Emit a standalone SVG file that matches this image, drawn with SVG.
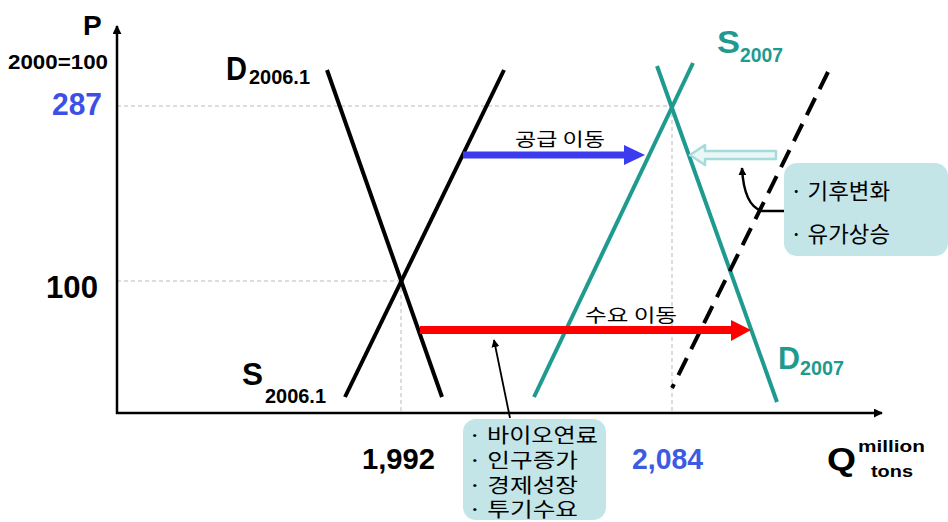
<svg xmlns="http://www.w3.org/2000/svg" width="948" height="522" viewBox="0 0 948 522">
<defs>
<marker id="ah" viewBox="0 0 10 10" refX="9" refY="5" markerWidth="9" markerHeight="9" markerUnits="userSpaceOnUse" orient="auto"><path d="M0,0 L10,5 L0,10 z" fill="#000"/></marker>
<marker id="ahs" viewBox="0 0 10 10" refX="9" refY="5" markerWidth="8" markerHeight="8" markerUnits="userSpaceOnUse" orient="auto"><path d="M0,0 L10,5 L0,10 z" fill="#000"/></marker>
</defs>
<style>
.lbl{font-family:"Liberation Sans",Arial,sans-serif;font-weight:bold}
.kr{font-family:"Noto Sans CJK KR","Noto Sans",sans-serif}
.guide{stroke:#bbbbbb;stroke-width:1;stroke-dasharray:4 3;fill:none}
.blk{stroke:#000;stroke-width:4;fill:none;stroke-linecap:butt}
.teal{stroke:#1f9a8f;stroke-width:4;fill:none}
.box{fill:#c3e5e8}
</style>
<rect width="948" height="522" fill="#fff"/>

<g id="guides">
<line class="guide" x1="117" y1="106" x2="672" y2="106"/>
<line class="guide" x1="117" y1="281" x2="401" y2="281"/>
<line class="guide" x1="401" y1="281" x2="401" y2="413"/>
<line class="guide" x1="672" y1="106" x2="672" y2="413"/>
</g>

<g id="axes">
<line x1="117" y1="414" x2="117" y2="26" stroke="#000" stroke-width="2.5" marker-end="url(#ah)"/>
<line x1="116" y1="413" x2="882" y2="413" stroke="#000" stroke-width="2.5" marker-end="url(#ah)"/>
<text class="lbl" x="83" y="35" font-size="28">P</text>
<text class="lbl" x="8" y="69" font-size="20" textLength="100" lengthAdjust="spacingAndGlyphs">2000=100</text>
<text class="lbl" x="52" y="115" font-size="31" fill="#3d4fe6" textLength="50" lengthAdjust="spacingAndGlyphs">287</text>
<text class="lbl" x="46" y="298" font-size="31" textLength="52" lengthAdjust="spacingAndGlyphs">100</text>
<text class="lbl" x="362" y="469" font-size="29" textLength="73" lengthAdjust="spacingAndGlyphs">1,992</text>
<text class="lbl" x="632" y="469" font-size="29" fill="#3d5ae3" textLength="71" lengthAdjust="spacingAndGlyphs">2,084</text>
<text class="lbl" x="827" y="470" font-size="32" textLength="29" lengthAdjust="spacingAndGlyphs">Q</text>
<text class="lbl" x="858" y="452" font-size="17" textLength="67" lengthAdjust="spacingAndGlyphs">million</text>
<text class="lbl" x="871" y="477" font-size="17" textLength="42" lengthAdjust="spacingAndGlyphs">tons</text>
</g>

<g id="D2006">
<line class="blk" x1="327" y1="70" x2="442" y2="397"/>
<text class="lbl" x="226" y="80" font-size="34" textLength="21" lengthAdjust="spacingAndGlyphs">D</text>
<text class="lbl" x="249" y="84" font-size="20" textLength="61" lengthAdjust="spacingAndGlyphs">2006.1</text>
</g>

<g id="S2006">
<line class="blk" x1="345" y1="397" x2="504" y2="70"/>
<text class="lbl" x="242" y="385" font-size="32" textLength="21" lengthAdjust="spacingAndGlyphs">S</text>
<text class="lbl" x="265" y="403" font-size="21" textLength="61" lengthAdjust="spacingAndGlyphs">2006.1</text>
</g>

<g id="S2007">
<line class="teal" x1="693" y1="63" x2="534" y2="397"/>
<text class="lbl" x="717" y="53" font-size="32" fill="#1f9a8f" textLength="23" lengthAdjust="spacingAndGlyphs">S</text>
<text class="lbl" x="740" y="62" font-size="20" fill="#1f9a8f" textLength="43" lengthAdjust="spacingAndGlyphs">2007</text>
</g>

<g id="D2007">
<line class="teal" x1="657" y1="66" x2="777" y2="402"/>
<text class="lbl" x="778" y="369" font-size="31" fill="#1f9a8f" textLength="22" lengthAdjust="spacingAndGlyphs">D</text>
<text class="lbl" x="800" y="375" font-size="20" fill="#1f9a8f" textLength="44" lengthAdjust="spacingAndGlyphs">2007</text>
</g>

<g id="D2007-dashed">
<line x1="828" y1="72" x2="672" y2="388" stroke="#000" stroke-width="4" stroke-dasharray="19 10"/>
</g>

<g id="supply-shift">
<line x1="463" y1="155" x2="626" y2="155" stroke="#3b3bf0" stroke-width="7"/>
<polygon points="624,145 645,155 624,165" fill="#3b3bf0"/>
<text class="kr" x="515" y="146" font-size="18" textLength="90" lengthAdjust="spacingAndGlyphs">공급 이동</text>
</g>

<g id="demand-shift">
<line x1="420" y1="330" x2="733" y2="330" stroke="#ff0000" stroke-width="8"/>
<polygon points="731,320 751,330 731,341" fill="#ff0000"/>
<text class="kr" x="585" y="322" font-size="18" textLength="92" lengthAdjust="spacingAndGlyphs">수요 이동</text>
</g>

<g id="cost-shift">
<polygon points="776,151 705,151 705,145 690,155 705,165 705,159 776,159" fill="#eaf7f7" stroke="#a6dbdb" stroke-width="2.5" stroke-linejoin="round"/>
</g>

<g id="box-climate">
<rect class="box" x="784" y="163" width="164" height="93" rx="13"/>
<text class="kr" x="790" y="199" font-size="22" textLength="100" lengthAdjust="spacingAndGlyphs">· 기후변화</text>
<text class="kr" x="790" y="242" font-size="22" textLength="100" lengthAdjust="spacingAndGlyphs">· 유가상승</text>
</g>

<g id="box-demand">
<rect class="box" x="463" y="419" width="143" height="101" rx="13"/>
<text class="kr" x="468" y="443" font-size="20" textLength="130" lengthAdjust="spacingAndGlyphs">· 바이오연료</text>
<text class="kr" x="468" y="468" font-size="20" textLength="110" lengthAdjust="spacingAndGlyphs">· 인구증가</text>
<text class="kr" x="468" y="493" font-size="20" textLength="110" lengthAdjust="spacingAndGlyphs">· 경제성장</text>
<text class="kr" x="468" y="517" font-size="20" textLength="110" lengthAdjust="spacingAndGlyphs">· 투기수요</text>
</g>

<g id="connectors">
<line x1="510" y1="418" x2="494" y2="340" stroke="#000" stroke-width="1.8" marker-end="url(#ahs)"/>
<path d="M784,211 L762,211 Q744,206 742,168" fill="none" stroke="#000" stroke-width="2.5" marker-end="url(#ahs)"/>
</g>
</svg>
